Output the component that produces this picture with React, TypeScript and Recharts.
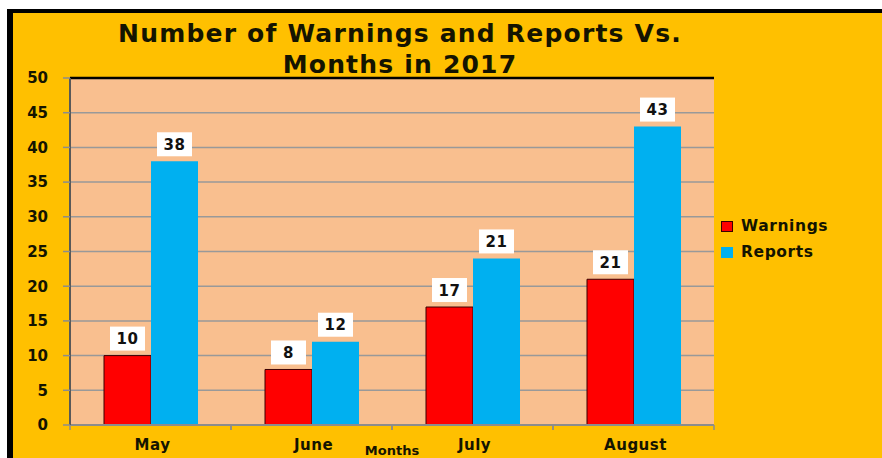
import React from 'react';
import {
  BarChart, Bar, XAxis, YAxis, CartesianGrid, LabelList, ReferenceLine
} from 'recharts';

const months = ['May', 'June', 'July', 'August'];
const warnings = [10, 8, 17, 21];
const reports = [38, 12, 24, 43];
// labels printed on the bars (July's report label reads 21 in the source)
const warningLabels = ['10', '8', '17', '21'];
const reportLabels = ['38', '12', '21', '43'];
const yTicks = [0, 5, 10, 15, 20, 25, 30, 35, 40, 45, 50];
const seriesNames = ['Warnings', 'Reports'];

const data = months.map((m, i) => ({ month: m, Warnings: warnings[i], Reports: reports[i] }));

const FONT = '"DejaVu Sans", Verdana, sans-serif';
const INK = '#141400';
const RED = '#FF0000';
const BLUE = '#00B0F0';
const BAND = (714 - 70) / 4;

const makeLabel = (labels: string[]) => (props: any) => {
  const { x, y, width, index } = props;
  const cx = x + width / 2;
  const bw = 35, bh = 24;
  const top = y - 5 - bh;
  return (
    <g>
      <rect x={cx - bw / 2} y={top} width={bw} height={bh} fill="#fff" />
      <text x={cx} y={top + bh / 2 + 5.5} textAnchor="middle" fontFamily={FONT} fontWeight="bold" fontSize={15} fill="#111" letterSpacing={0.5}>
        {labels[index]}
      </text>
    </g>
  );
};

const MonthTick = (props: any) => {
  const { x, y, payload } = props;
  return (
    <g>
      <line x1={x - BAND / 2} x2={x - BAND / 2} y1={y - 8} y2={y - 3} stroke="#8c8c8c" strokeWidth={1.5} />
      <line x1={x + BAND / 2} x2={x + BAND / 2} y1={y - 8} y2={y - 3} stroke="#8c8c8c" strokeWidth={1.5} />
      <text x={x + 2} y={y + 17} textAnchor="middle" fontFamily={FONT} fontWeight="bold" fontSize={15} fill={INK} letterSpacing={0.5}>
        {payload.value}
      </text>
    </g>
  );
};

export default function App() {
  return (
    <div style={{ position: 'absolute', top: 0, left: 0, width: 882, height: 458, background: '#fff', overflow: 'hidden' }}>
      <div style={{ position: 'absolute', left: 7, top: 9, width: 875, height: 449, background: '#FFC000', borderLeft: '6px solid #000', borderTop: '4px solid #000', boxSizing: 'border-box' }} />
      <div style={{ position: 'absolute', left: 50, width: 700, top: 18, textAlign: 'center', fontFamily: FONT, fontWeight: 'bold', fontSize: 25, letterSpacing: 1.2, lineHeight: '31px', color: INK }}>
        Number of Warnings and Reports Vs.<br />Months in 2017
      </div>
      <div style={{ position: 'absolute', left: 0, top: 0 }}>
        <BarChart
          width={882}
          height={458}
          data={data}
          margin={{ top: 78, right: 168, left: 0, bottom: 0 }}
          barCategoryGap={34}
          barGap={0}
        >
          <CartesianGrid vertical={false} fill="#F9BF8F" stroke="#999999" strokeWidth={1.5} />
          <XAxis
            dataKey="month"
            height={33}
            axisLine={{ stroke: '#8c8c8c', strokeWidth: 2 }}
            tickLine={false}
            tick={<MonthTick />}
            interval={0}
            label={{ value: 'Months', position: 'insideBottom', offset: 3, fontFamily: FONT, fontWeight: 'bold', fontSize: 13, fill: INK }}
          />
          <YAxis
            width={70}
            domain={[0, 50]}
            ticks={yTicks}
            interval={0}
            tickSize={7}
            tickMargin={15}
            axisLine={{ stroke: '#595959', strokeWidth: 2 }}
            tickLine={{ stroke: '#8c8c8c', strokeWidth: 1.5 }}
            tick={{ fontFamily: FONT, fontWeight: 'bold', fontSize: 15, fill: INK }}
          />
          <YAxis yAxisId="r" orientation="right" width={0} tick={false} tickLine={false} axisLine={{ stroke: '#000', strokeWidth: 2.5 }} />
          <ReferenceLine y={50} stroke="#000" strokeWidth={2.5} />
          <Bar dataKey="Warnings" fill={RED} stroke="#3a0000" strokeWidth={1} isAnimationActive={false}>
            <LabelList dataKey="Warnings" content={makeLabel(warningLabels)} />
          </Bar>
          <Bar dataKey="Reports" fill={BLUE} isAnimationActive={false}>
            <LabelList dataKey="Reports" content={makeLabel(reportLabels)} />
          </Bar>
        </BarChart>
      </div>
      <div style={{ position: 'absolute', left: 721, top: 213, fontFamily: FONT, fontWeight: 'bold', fontSize: 15.5, letterSpacing: 0.6, color: INK }}>
        {seriesNames.map((name, i) => (
          <div key={name} style={{ display: 'flex', alignItems: 'center', height: 26 }}>
            <span style={{ display: 'inline-block', width: 12, height: 11, background: i === 0 ? RED : BLUE, border: i === 0 ? '1px solid #3a0000' : 'none', marginRight: 8, boxSizing: 'border-box' }} />
            {name}
          </div>
        ))}
      </div>
    </div>
  );
}
